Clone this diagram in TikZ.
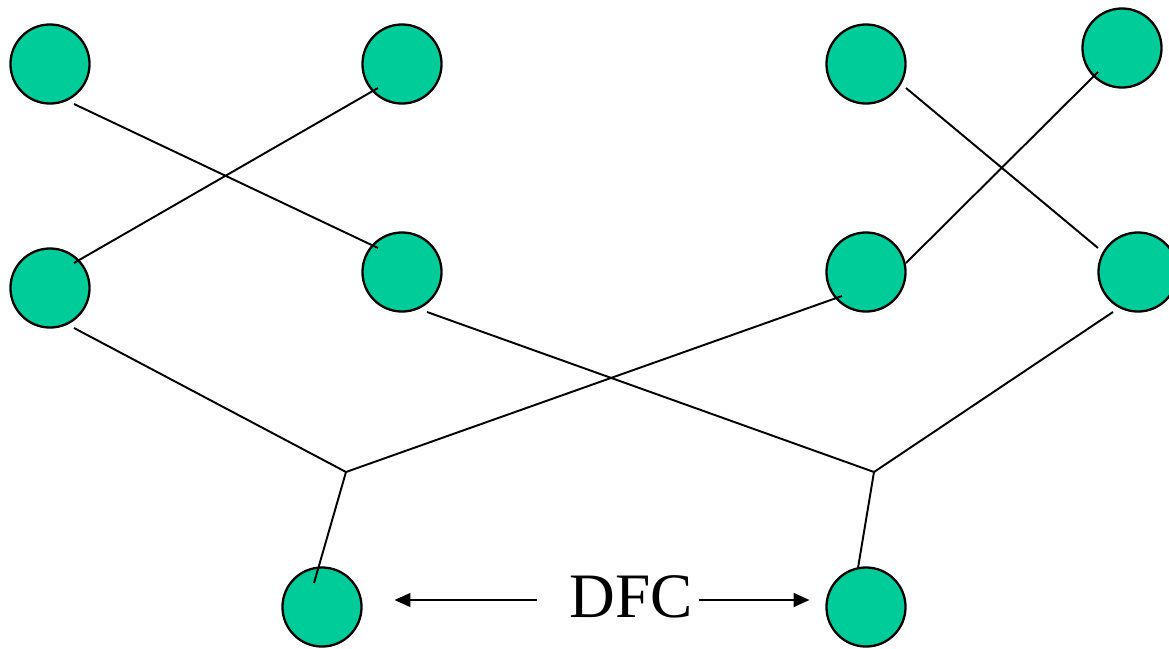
\documentclass[tikz,border=0pt]{standalone}
\usepackage{fontspec}
\setmainfont{Liberation Serif}
\usetikzlibrary{arrows.meta}
\definecolor{sitegreen}{RGB}{0,204,153}
\tikzset{
  site/.style={circle, draw=black, fill=sitegreen, line width=0.65pt,
    minimum size=0.79cm, inner sep=0pt, outer sep=0pt},
  link/.style={line width=0.55pt},
  dfcarrow/.style={line width=0.55pt, -{Triangle[length=4.5pt,width=3.9pt]}}
}

\begin{document}
\begin{tikzpicture}[x=0.01cm, y=-0.01cm]
    \useasboundingbox (0,0) rectangle (1169,648);

    % top row
    \node[site] (t1) at (50,64) {};
    \node[site] (t2) at (402,64) {};
    \node[site] (t3) at (866,64) {};
    \node[site] (t4) at (1122,48) {};
    % middle row
    \node[site] (m1) at (50,288) {};
    \node[site] (m2) at (402,272) {};
    \node[site] (m3) at (866,272) {};
    \node[site] (m4) at (1138,272) {};
    % bottom
    \node[site] (b1) at (322,607) {};
    \node[site] (b2) at (866,607) {};

    \coordinate (j1) at (346,472);
    \coordinate (j2) at (874,472);

    \draw[link] ([shift={(24,40)}]t1.center) -- ([shift={(-24,-24)}]m2.center);
    \draw[link] ([shift={(-24,24)}]t2.center) -- ([shift={(24,-25)}]m1.center);
    \draw[link] ([shift={(40,24)}]t3.center) -- ([shift={(-40,-24)}]m4.center);
    \draw[link] ([shift={(-24,24)}]t4.center) -- ([shift={(40,-9)}]m3.center);

    \draw[link] ([shift={(24,40)}]m1.center) -- (j1) -- ([shift={(-24,24)}]m3.center);
    \draw[link] ([shift={(25,40)}]m2.center) -- (j2) -- ([shift={(-25,40)}]m4.center);
    \draw[link] (j1) -- ([shift={(-8,-24)}]b1.center);
    \draw[link] (j2) -- ([shift={(-8,-39)}]b2.center);

    \node[anchor=base, inner sep=0pt, font=\fontsize{18}{20}\selectfont] (dfc) at (631,617) {DFC};
    \draw[dfcarrow] ([shift={(-32,-17)}]dfc.base west) -- ([shift={(33,-7)}]b1.east);
    \draw[dfcarrow] ([shift={(6,-17)}]dfc.base east) -- ([shift={(-17,-7)}]b2.west);
\end{tikzpicture}
\end{document}
